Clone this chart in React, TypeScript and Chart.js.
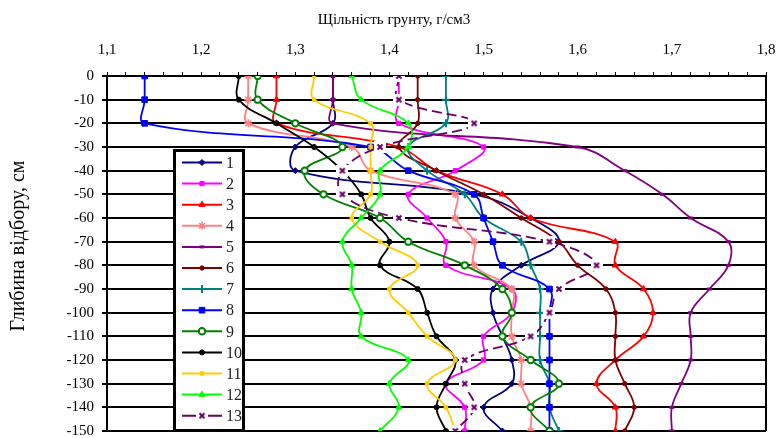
import React, { useEffect, useRef } from 'react';
import { Chart, registerables } from 'chart.js';
import { drawPoint } from 'chart.js/helpers';

Chart.register(...registerables);

const depths = [0, -10, -20, -30, -40, -50, -60, -70, -80, -90, -100, -110, -120, -130, -140, -150];
const seriesNames = ['1', '2', '3', '4', '5', '6', '7', '8', '9', '10', '11', '12', '13'];

const s1 = [1.34, 1.34, 1.34, 1.30, 1.30, 1.49, 1.55, 1.58, 1.54, 1.51, 1.51, 1.52, 1.53, 1.53, 1.50, 1.52];
const s2 = [1.41, 1.41, 1.41, 1.50, 1.47, 1.42, 1.44, 1.46, 1.46, 1.53, 1.53, 1.50, 1.50, 1.46, 1.48, 1.48];
const s3 = [1.28, 1.28, 1.28, 1.41, 1.45, 1.52, 1.55, 1.64, 1.64, 1.67, 1.68, 1.67, 1.64, 1.62, 1.64, 1.64];
const s4 = [1.25, 1.25, 1.25, 1.36, 1.38, 1.47, 1.47, 1.49, 1.49, 1.53, 1.53, 1.53, 1.54, 1.54, 1.55, 1.55];
const s5 = [1.34, 1.34, 1.34, 1.60, 1.65, 1.69, 1.72, 1.76, 1.76, 1.74, 1.72, 1.72, 1.72, 1.71, 1.70, 1.70];
const s6 = [1.43, 1.43, 1.43, 1.41, 1.45, 1.50, 1.54, 1.58, 1.60, 1.63, 1.64, 1.64, 1.64, 1.65, 1.66, 1.65];
const s7 = [1.46, 1.46, 1.46, 1.42, 1.44, 1.48, 1.50, 1.54, 1.55, 1.56, 1.56, 1.56, 1.56, 1.57, 1.57, 1.58];
const s8 = [1.14, 1.14, 1.14, 1.38, 1.42, 1.49, 1.50, 1.51, 1.52, 1.57, 1.57, 1.57, 1.57, 1.57, 1.57, 1.57];
const s9 = [1.26, 1.26, 1.30, 1.35, 1.31, 1.33, 1.39, 1.42, 1.48, 1.52, 1.53, 1.52, 1.55, 1.58, 1.55, 1.57];
const s10 = [1.24, 1.24, 1.28, 1.32, 1.35, 1.37, 1.38, 1.40, 1.39, 1.43, 1.44, 1.45, 1.47, 1.46, 1.45, 1.46];
const s11 = [1.32, 1.32, 1.38, 1.38, 1.38, 1.38, 1.36, 1.39, 1.43, 1.40, 1.42, 1.44, 1.47, 1.44, 1.46, 1.47];
const s12 = [1.36, 1.37, 1.42, 1.42, 1.39, 1.39, 1.37, 1.35, 1.36, 1.36, 1.37, 1.37, 1.42, 1.40, 1.41, 1.39];
const s13 = [1.41, 1.41, 1.49, 1.39, 1.35, 1.35, 1.41, 1.57, 1.62, 1.58, 1.57, 1.55, 1.48, 1.48, 1.49, 1.47];

const allSeries = [s1, s2, s3, s4, s5, s6, s7, s8, s9, s10, s11, s12, s13];

const colors = ['#000080', '#FF00FF', '#FF0000', '#FF8080', '#800080', '#800000', '#008080', '#0000FF', '#008000', '#000000', '#FFCC00', '#00FF00', '#660066'];

const xTitle = 'Щільність грунту, г/см3';
const yTitle = 'Глибина відбору, см';

const FONT = "'Liberation Serif', 'Times New Roman', serif";

export default function App() {
  const ref = useRef<HTMLCanvasElement>(null);

  useEffect(() => {
    const canvas = ref.current!;
    const ctx = canvas.getContext('2d')!;

    // custom x-marker with white background
    const xm = document.createElement('canvas');
    xm.width = 12;
    xm.height = 12;
    const xc = xm.getContext('2d')!;
    xc.fillStyle = '#ffffff';
    xc.fillRect(0, 0, 12, 12);
    xc.strokeStyle = '#660066';
    xc.lineWidth = 2;
    xc.beginPath();
    xc.moveTo(3.5, 3.5);
    xc.lineTo(8.5, 8.5);
    xc.moveTo(8.5, 3.5);
    xc.lineTo(3.5, 8.5);
    xc.stroke();

    const markers: any[] = [
      { style: 'rectRot', r: 3, bw: 1, fill: colors[0] },
      { style: 'rect', r: 3, bw: 1, fill: colors[1] },
      { style: 'triangle', r: 3.5, bw: 1, fill: colors[2] },
      { style: 'star', r: 4, bw: 1.5, fill: colors[3] },
      { style: 'line', r: 2.5, bw: 3, fill: colors[4] },
      { style: 'circle', r: 2.2, bw: 1, fill: colors[5] },
      { style: 'cross', r: 4, bw: 2, fill: colors[6] },
      { style: 'rect', r: 4, bw: 1, fill: colors[7] },
      { style: 'circle', r: 3.2, bw: 2, fill: '#ffffff' },
      { style: 'circle', r: 2.5, bw: 1, fill: colors[9] },
      { style: 'rect', r: 2.5, bw: 1, fill: colors[10] },
      { style: 'triangle', r: 3.5, bw: 1, fill: colors[11] },
      { style: xm, r: 6, bw: 0, fill: '#ffffff' },
    ];

    const datasets = allSeries.map((vals, i) => ({
      label: seriesNames[i],
      data: vals.map((v, k) => ({ x: v, y: depths[k] })),
      showLine: true,
      borderColor: colors[i],
      backgroundColor: colors[i],
      borderWidth: 1.8,
      borderDash: i === 12 ? [10, 5] : [],
      tension: 0.4,
      fill: false,
      pointStyle: markers[i].style,
      pointRadius: markers[i].r,
      pointBorderWidth: markers[i].bw,
      pointBackgroundColor: markers[i].fill,
      pointBorderColor: colors[i],
      order: 13 - i,
    }));

    const deco = {
      id: 'deco',
      afterDraw(chart: any) {
        const c = chart.ctx;
        const ca = chart.chartArea;
        c.save();
        // right border
        c.strokeStyle = '#000';
        c.lineWidth = 2;
        c.beginPath();
        c.moveTo(ca.right, ca.top);
        c.lineTo(ca.right, ca.bottom);
        c.stroke();

        // titles
        c.fillStyle = '#000';
        c.font = `15px ${FONT}`;
        c.textAlign = 'center';
        c.textBaseline = 'middle';
        c.fillText(xTitle, 394, 20);
        c.save();
        c.font = `20px ${FONT}`;
        c.translate(19, 246);
        c.rotate(-Math.PI / 2);
        c.fillText(yTitle, 0, 0);
        c.restore();

        // legend box
        const bx = 174.5, by = 150.5, bw = 69, bh = 280;
        c.fillStyle = '#fff';
        c.fillRect(bx, by, bw, bh);
        c.strokeStyle = '#000';
        c.lineWidth = 3;
        c.strokeRect(bx, by, bw, bh);

        for (let i = 0; i < seriesNames.length; i++) {
          const y = 162.5 + i * 21.1;
          c.strokeStyle = colors[i];
          c.lineWidth = 2;
          c.setLineDash([]);
          c.beginPath();
          c.moveTo(182, y);
          c.lineTo(222, y);
          c.stroke();
          c.fillStyle = markers[i].fill;
          c.strokeStyle = colors[i];
          c.lineWidth = markers[i].bw;
          drawPoint(c, { pointStyle: markers[i].style, rotation: 0, radius: markers[i].r, borderWidth: markers[i].bw }, 202, y);
          c.fillStyle = '#222';
          c.font = `16px ${FONT}`;
          c.textAlign = 'left';
          c.textBaseline = 'middle';
          c.fillText(seriesNames[i], 226, y + 1);
        }
        c.restore();
      },
    };

    const chart = new Chart(ctx, {
      type: 'scatter',
      data: { datasets: datasets as any },
      options: {
        responsive: false,
        animation: false,
        layout: { padding: { left: 0, right: 14, top: 0, bottom: 5 } },
        plugins: {
          legend: { display: false },
          tooltip: { enabled: false },
          title: { display: false },
        },
        scales: {
          x: {
            type: 'linear',
            position: 'top',
            min: 1.1,
            max: 1.8,
            afterFit(scale: any) {
              scale.height = 76;
              scale.paddingLeft = 0;
              scale.paddingRight = 0;
            },
            ticks: {
              stepSize: 0.02,
              autoSkip: false,
              maxRotation: 0,
              minRotation: 0,
              padding: 13,
              color: '#000',
              font: { family: FONT, size: 15 },
              callback(value: any) {
                const v = Math.round(Number(value) * 100);
                if (v % 10 !== 0) return '';
                return (v / 100).toFixed(1).replace('.', ',');
              },
            },
            grid: {
              drawOnChartArea: false,
              drawTicks: true,
              tickLength: 4,
              color: '#000',
              lineWidth: 1,
            },
            border: { display: true, color: '#000', width: 2 },
          },
          y: {
            type: 'linear',
            position: 'left',
            min: -150,
            max: 0,
            afterFit(scale: any) {
              scale.width = 107;
              scale.paddingTop = 0;
              scale.paddingBottom = 0;
            },
            ticks: {
              stepSize: 10,
              padding: 8,
              color: '#000',
              font: { family: FONT, size: 15 },
              callback(value: any) {
                return String(value);
              },
            },
            grid: {
              color: '#000',
              lineWidth: 2,
              tickLength: 5,
              drawTicks: true,
            },
            border: { display: true, color: '#000', width: 2 },
          },
        },
      },
      plugins: [deco],
    });

    return () => chart.destroy();
  }, []);

  return (
    <div style={{ position: 'fixed', left: 0, top: 0, width: 780, height: 438, background: '#fff' }}>
      <canvas ref={ref} width={780} height={438} style={{ display: 'block' }} />
    </div>
  );
}
